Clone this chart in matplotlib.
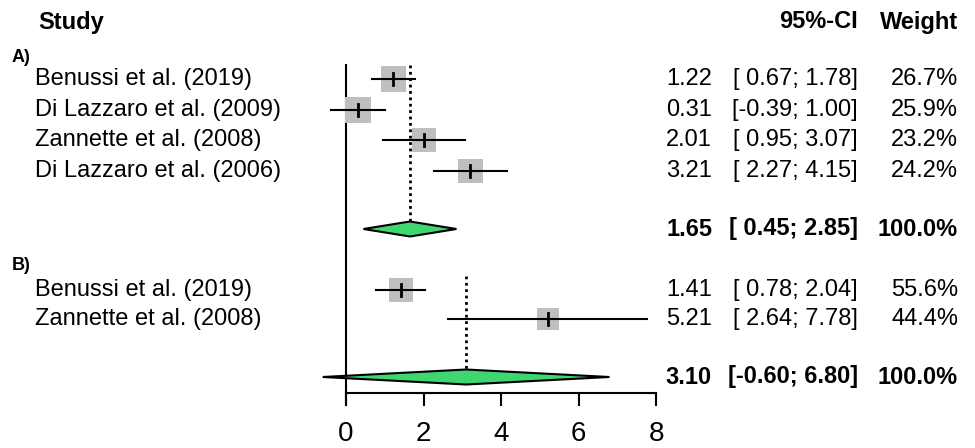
import numpy as np
import matplotlib
matplotlib.use("Agg")
import matplotlib.pyplot as plt
import matplotlib.patches as patches
import matplotlib.transforms as mtransforms

plt.rcParams['font.family'] = ['Liberation Sans', 'DejaVu Sans']

# group A
studies_a = ["Benussi et al. (2019)", "Di Lazzaro et al. (2009)",
             "Zannette et al. (2008)", "Di Lazzaro et al. (2006)"]
est_a = [1.22, 0.31, 2.01, 3.21]
lo_a = [0.67, -0.39, 0.95, 2.27]
hi_a = [1.78, 1.00, 3.07, 4.15]
w_a = [26.7, 25.9, 23.2, 24.2]
pooled_a = (1.65, 0.45, 2.85)

# group B
studies_b = ["Benussi et al. (2019)", "Zannette et al. (2008)"]
est_b = [1.41, 5.21]
lo_b = [0.78, 2.64]
hi_b = [2.04, 7.78]
w_b = [55.6, 44.4]
pooled_b = (3.10, -0.60, 6.80)

xticks = [0, 2, 4, 6, 8]

# pixel layout: x px = 346 + 38.75 * value, y in pixels from top
X0, SCALE = 346, 38.75
W, H = 975, 448

fig = plt.figure(figsize=(9.75, 4.48), dpi=100)
ax = fig.add_axes([0, 0, 1, 1])
ax.set_xlim(-X0 / SCALE, (W - X0) / SCALE)
ax.set_ylim(H, 0)
ax.axis('off')

# x in pixels, y in data (pixels from top)
px = mtransforms.blended_transform_factory(
    mtransforms.Affine2D().scale(1.0 / W, 1.0) + ax.transAxes, ax.transData)

GREY = '#bfbfbf'
GREEN = '#3fd672'
FS = 17
COL_EST, COL_CI, COL_W = 712, 858, 958


def ci_text(lo, hi):
    def f(v):
        s = f"{v:.2f}"
        return s if v < 0 else " " + s
    return f"[{f(lo)};{f(hi)}]"


def draw_group(names, est, lo, hi, w, pooled, ys, ydiam, label, ylab, box_ref):
    ref_w = max(w)
    # pooled estimate dotted line
    ax.plot([pooled[0], pooled[0]], [ys[0] - 14, ydiam - 8], color='black',
            lw=2, ls=(0, (1, 1.3)), zorder=1)
    for name, e, l, h, wt, y in zip(names, est, lo, hi, w, ys):
        side = box_ref * np.sqrt(wt / ref_w)
        ax.add_patch(patches.Rectangle((e - side / 2 / SCALE, y - side / 2),
                                       side / SCALE, side, facecolor=GREY,
                                       edgecolor='none', zorder=3))
        ax.plot([l, h], [y, y], color='black', lw=1.5, zorder=4)
        ax.plot([e, e], [y - 6, y + 6], color='black', lw=2, zorder=4)
        ax.text(35, y, name, fontsize=FS, va='center', ha='left', transform=px)
        ax.text(COL_EST, y, f"{e:.2f}", fontsize=FS, va='center', ha='right', transform=px)
        ax.text(COL_CI, y, ci_text(l, h), fontsize=FS, va='center', ha='right', transform=px)
        ax.text(COL_W, y, f"{wt:.1f}%", fontsize=FS, va='center', ha='right', transform=px)
    m, l, h = pooled
    dh = 7.5
    ax.add_patch(patches.Polygon([[l, ydiam], [m, ydiam - dh], [h, ydiam], [m, ydiam + dh]],
                                 closed=True, facecolor=GREEN, edgecolor='black',
                                 lw=1.5, zorder=5))
    ax.text(COL_EST, ydiam, f"{m:.2f}", fontsize=FS, va='center', ha='right',
            fontweight='bold', transform=px)
    ax.text(COL_CI, ydiam, ci_text(l, h), fontsize=FS, va='center', ha='right',
            fontweight='bold', transform=px)
    ax.text(COL_W, ydiam, "100.0%", fontsize=FS, va='center', ha='right',
            fontweight='bold', transform=px)
    ax.text(12, ylab, label, fontsize=13, va='center', ha='left',
            fontweight='bold', transform=px)


ys_a = [79, 110, 140, 171]
ys_b = [290, 319]
draw_group(studies_a, est_a, lo_a, hi_a, w_a, pooled_a, ys_a, 229, "A)", 57, 25.5)
draw_group(studies_b, est_b, lo_b, hi_b, w_b, pooled_b, ys_b, 377, "B)", 266, 24)

# reference line at 0 and x axis
ax.plot([0, 0], [65, 405], color='black', lw=1.5, zorder=2)
ax.plot([xticks[0], xticks[-1]], [393, 393], color='black', lw=1.5)
for t in xticks:
    ax.plot([t, t], [393, 405], color='black', lw=1.5)
    ax.text(t, 441, str(t), fontsize=20, ha='center', va='baseline')

# headers
ax.text(38, 22, "Study", fontsize=FS, fontweight='bold', va='center', ha='left', transform=px)
ax.text(COL_CI, 22, "95%-CI", fontsize=FS, fontweight='bold', va='center', ha='right', transform=px)
ax.text(COL_W, 22, "Weight", fontsize=FS, fontweight='bold', va='center', ha='right', transform=px)

fig.savefig("out.png", dpi=100, facecolor='white')
